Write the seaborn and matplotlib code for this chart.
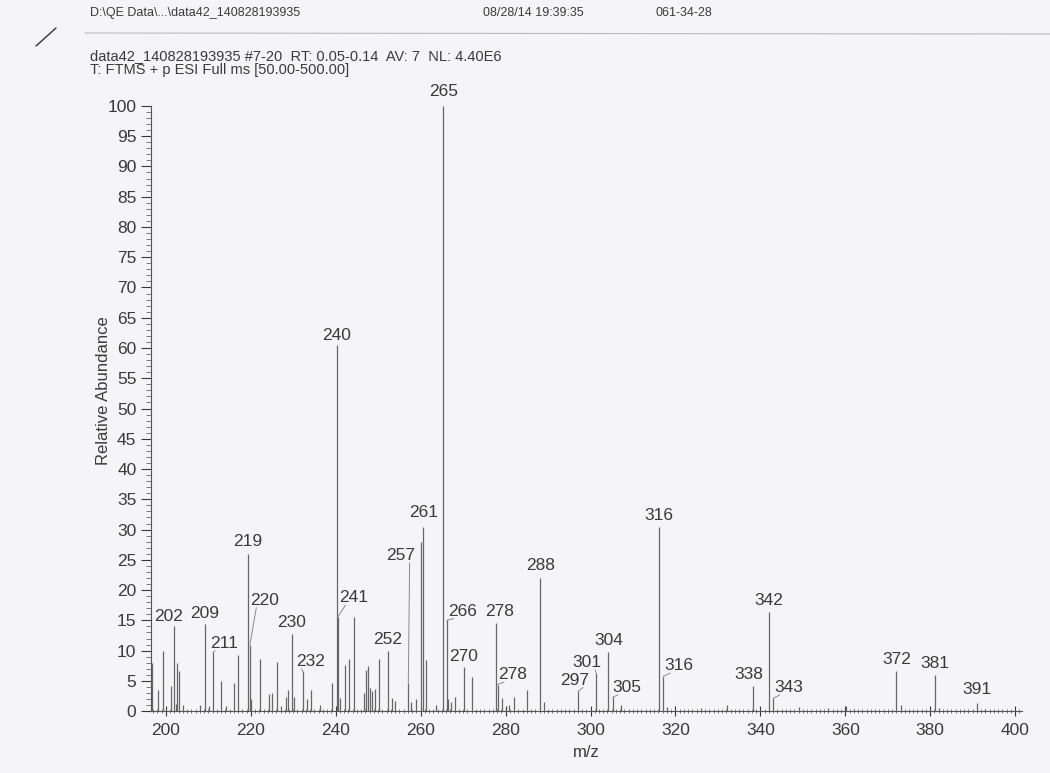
import numpy as np
import matplotlib
matplotlib.use('Agg')
import matplotlib.pyplot as plt
import seaborn as sns
from matplotlib.ticker import MultipleLocator

# peak list (m/z, relative abundance %)
mz = [196.7, 198.2, 199.3, 201.1, 201.9, 202.3, 202.6, 203.1, 204.0, 208.1,
      209.2, 210.2, 211.1, 213.1, 214.2, 216.1, 217.1, 219.3, 219.8, 220.1,
      222.2, 224.2, 225.1, 226.2, 227.2, 228.3, 228.7, 229.7, 230.2, 232.2,
      233.2, 234.2, 236.2, 239.2, 240.3, 240.5, 240.9, 242.1, 243.2, 244.3,
      246.7, 247.1, 247.6, 248.1, 248.5, 249.2, 250.2, 252.2, 253.2, 254.0,
      257.1, 257.8, 258.9, 260.1, 260.5, 261.2, 263.6, 265.2, 266.1, 266.5,
      267.1, 268.0, 270.2, 272.2, 277.7, 278.1, 279.1, 280.8, 282.1, 285.1,
      288.2, 289.1, 297.1, 301.3, 304.2, 305.2, 307.1, 316.2, 317.0, 317.9,
      326.0, 332.1, 338.2, 342.1, 343.0, 349.1, 356.0, 360.2, 362.0, 372.0,
      373.0, 381.1, 382.0, 391.1, 392.9]
intensity = [8.0, 3.5, 10.0, 4.1, 14.0, 1.2, 8.0, 6.6, 1.0, 1.0,
             14.4, 0.8, 9.7, 5.0, 0.8, 4.6, 9.2, 26.0, 11.0, 2.0,
             8.7, 2.8, 3.0, 8.2, 0.8, 2.3, 3.5, 12.8, 2.4, 6.6,
             2.0, 3.5, 1.0, 4.6, 60.5, 15.6, 2.2, 7.6, 8.7, 15.6,
             3.0, 6.8, 7.4, 3.9, 3.3, 3.6, 8.7, 9.9, 2.2, 1.7,
             4.7, 1.5, 2.0, 28.0, 30.5, 8.4, 1.1, 100.0, 15.0, 2.0,
             1.5, 2.3, 7.3, 5.7, 14.6, 4.4, 2.1, 1.0, 2.4, 3.5,
             22.0, 1.5, 3.3, 6.3, 9.7, 2.3, 1.0, 30.5, 5.7, 0.7,
             0.6, 1.0, 4.2, 16.4, 2.1, 0.7, 0.5, 0.8, 0.4, 6.6,
             1.1, 6.0, 0.5, 1.4, 0.4]

# labelled peaks: text, m/z of the peak it points to
label_text = ['202', '209', '211', '219', '220', '230', '232', '240', '241',
              '252', '257', '261', '265', '266', '270', '278', '278', '288',
              '297', '301', '304', '305', '316', '316', '338', '342', '343',
              '372', '381', '391']
label_mz = [201.9, 209.2, 211.1, 219.3, 219.8, 229.7, 232.2, 240.3, 240.5,
            252.2, 257.1, 260.5, 265.2, 266.1, 270.2, 277.7, 278.1, 288.2,
            297.1, 301.3, 304.2, 305.2, 316.2, 317.0, 338.2, 342.1, 343.0,
            372.0, 381.1, 391.1]

# where each label sits (text centre, data units) and whether a leader line is drawn
label_pos = [(200.7, 15.6, False), (209.1, 16.1, False), (213.6, 11.2, True),
             (219.3, 28.0, False), (223.3, 18.3, True), (229.7, 14.7, False),
             (234.0, 8.2, True), (240.3, 62.0, False), (244.3, 18.7, True),
             (252.2, 11.8, False), (255.4, 25.7, True), (260.7, 32.8, False),
             (265.3, 102.3, False), (269.8, 16.5, True), (270.2, 9.1, False),
             (278.5, 16.5, False), (281.6, 6.0, True), (288.2, 24.0, False),
             (296.2, 5.1, True), (299.1, 8.0, True), (304.2, 11.6, False),
             (308.5, 3.9, True), (316.2, 32.4, False), (320.8, 7.5, True),
             (337.3, 6.0, False), (342.1, 18.3, False), (346.6, 3.9, True),
             (372.1, 8.5, False), (381.1, 7.9, False), (391.1, 3.5, False)]

header = 'D:\\QE Data\\...\\data42_140828193935'
stamp = '08/28/14 19:39:35'
code = '061-34-28'
scan_line = 'data42_140828193935 #7-20  RT: 0.05-0.14  AV: 7  NL: 4.40E6'
filter_line = 'T: FTMS + p ESI Full ms [50.00-500.00]'

sns.set_theme(style='ticks')
plt.rcParams['font.family'] = ['Liberation Sans', 'DejaVu Sans']

paper = '#f5f5f9'
ink = '#3a3a3a'
fig = plt.figure(figsize=(10.5, 7.73), dpi=100, facecolor=paper)
ax = fig.add_axes([0.1438, 0.080, 0.8295, 0.783])
ax.set_facecolor(paper)

df_peaks = {'mz': np.array(mz), 'ab': np.array(intensity)}
ax.vlines(df_peaks['mz'], 0, df_peaks['ab'], color='#666666', lw=0.9)

peak_lookup = dict(zip(mz, intensity))
for txt, pmz, (tx, ty, leader) in zip(label_text, label_mz, label_pos):
    top = peak_lookup[pmz]
    ax.text(tx, ty, txt, ha='center', va='center', fontsize=12.5,
            color=ink, clip_on=False)
    if leader:
        # short line from peak top to the lower corner of the label
        side = -1 if tx > pmz else 1
        ax.plot([pmz, tx + side * 2.0], [top, ty - 1.2], color='#8a8a8a',
                lw=0.7, clip_on=False)

ax.set_xlim(196.5, 401.6)
ax.set_ylim(0, 100)
ax.xaxis.set_major_locator(MultipleLocator(20))
ax.xaxis.set_minor_locator(MultipleLocator(1))
ax.yaxis.set_major_locator(MultipleLocator(5))
ax.yaxis.set_minor_locator(MultipleLocator(1))
ax.tick_params(axis='both', which='major', labelsize=12.5, colors=ink,
               length=7, width=0.8)
ax.tick_params(axis='both', which='minor', length=3.5, width=0.6, colors='#666666')
ax.tick_params(axis='x', which='both', direction='inout')
ax.tick_params(axis='x', which='major', pad=5)
sns.despine(ax=ax)
for side in ['left', 'bottom']:
    ax.spines[side].set_color('#555555')
    ax.spines[side].set_linewidth(0.8)

ax.set_xlabel('m/z', fontsize=12, color=ink, labelpad=5)
ax.set_ylabel('Relative Abundance', fontsize=12, color=ink)
ax.yaxis.set_label_coords(-0.046, 0.53)

# printout header
fig.text(90 / 1050, 1 - 13 / 773, header, fontsize=9, color=ink, va='center')
fig.text(483 / 1050, 1 - 13 / 773, stamp, fontsize=9, color=ink, va='center')
fig.text(655 / 1050, 1 - 13 / 773, code, fontsize=9, color=ink, va='center')
fig.add_artist(plt.Line2D([85 / 1050, 1.0], [1 - 33 / 773, 1 - 34 / 773],
                          color='#bbbbbb', lw=0.8))
fig.text(90 / 1050, 1 - 56 / 773, scan_line, fontsize=10.5, color=ink, va='center')
fig.text(90 / 1050, 1 - 70 / 773, filter_line, fontsize=10.5, color=ink, va='center')
# pen mark on the page
fig.add_artist(plt.Line2D([36 / 1050, 56 / 1050], [1 - 46 / 773, 1 - 28 / 773],
                          color='#333333', lw=1.0))

fig.savefig('out.png', dpi=100, facecolor=paper)
